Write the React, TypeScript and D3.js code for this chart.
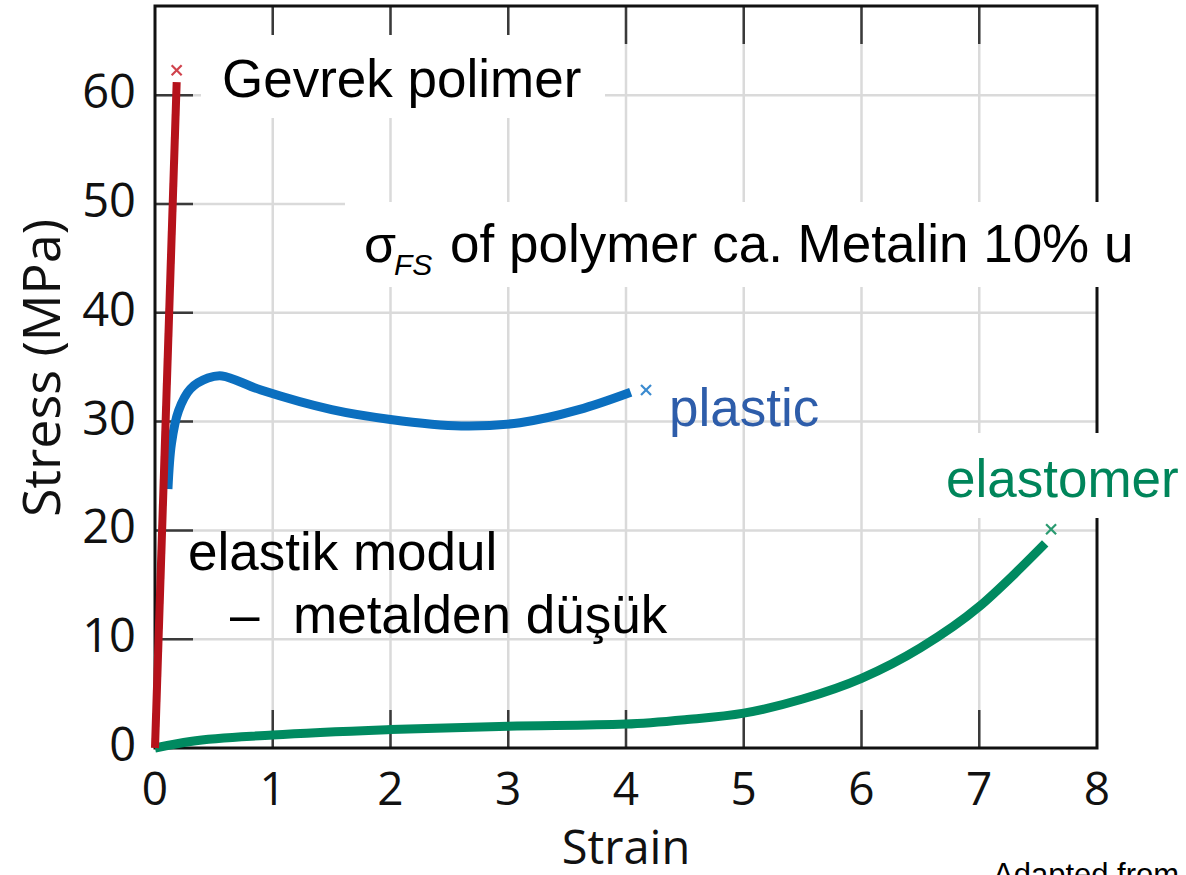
import * as d3 from "d3";

// strain / stress readings (strain, MPa)
const brittleCurve: [number, number][] = [
  [0, 0],
  [0.184, 61.2],
];
const plasticCurve: [number, number][] = [
  [0.11, 23.8],
  [0.14, 28.0],
  [0.2, 31.0],
  [0.3, 33.0],
  [0.45, 34.0],
  [0.57, 34.2],
  [0.9, 32.9],
  [1.5, 31.1],
  [2.0, 30.2],
  [2.6, 29.6],
  [3.1, 29.9],
  [3.6, 31.1],
  [4.04, 32.7],
];
const elastomerCurve: [number, number][] = [
  [0, 0],
  [0.3, 0.6],
  [1, 1.2],
  [2, 1.7],
  [3, 2.0],
  [4.0, 2.2],
  [4.5, 2.6],
  [5, 3.2],
  [5.5, 4.5],
  [6, 6.4],
  [6.5, 9.2],
  [7, 13.0],
  [7.3, 16.0],
  [7.56, 18.8],
];
const breakPoints: { p: [number, number]; color: string }[] = [
  { p: [0.184, 62.3], color: "#d0424c" },
  { p: [4.17, 32.9], color: "#3b8bd0" },
  { p: [7.61, 20.1], color: "#2a9a70" },
];
const xTicks = [0, 1, 2, 3, 4, 5, 6, 7, 8];
const yTicks = [0, 10, 20, 30, 40, 50, 60];

const W = 1186;
const H = 875;
const LEFT = 155;
const RIGHT = 1097;
const TOP = 6;
const BOTTOM = 748;
const TICK = 38;

const arial = "'Liberation Sans', Arial, sans-serif";
const axisFont = "'Open Sans', 'Noto Sans', sans-serif";

export default function App() {
  const x = d3.scaleLinear().domain([0, 8]).range([LEFT, RIGHT]);
  const y = d3.scaleLinear().domain([0, 68.2]).range([BOTTOM, TOP]);

  const smooth = d3
    .line<[number, number]>()
    .x((d) => x(d[0]))
    .y((d) => y(d[1]))
    .curve(d3.curveMonotoneX);
  const rounded = d3
    .line<[number, number]>()
    .x((d) => x(d[0]))
    .y((d) => y(d[1]))
    .curve(d3.curveCatmullRom.alpha(0.5));
  const straight = d3
    .line<[number, number]>()
    .x((d) => x(d[0]))
    .y((d) => y(d[1]));

  return (
    <svg
      width={W}
      height={H}
      viewBox={`0 0 ${W} ${H}`}
      style={{ position: "absolute", left: 0, top: 0, background: "#fff" }}
    >
      {/* grid */}
      {xTicks.slice(1, -1).map((t) => (
        <line key={"gx" + t} x1={x(t)} x2={x(t)} y1={TOP} y2={BOTTOM} stroke="#dadada" strokeWidth={2.5} />
      ))}
      {yTicks.slice(1).map((t) => (
        <line key={"gy" + t} x1={LEFT} x2={RIGHT} y1={y(t)} y2={y(t)} stroke="#dadada" strokeWidth={2.5} />
      ))}

      {/* ticks */}
      {xTicks.slice(1, -1).map((t) => (
        <g key={"tx" + t} stroke="#3a3a3a" strokeWidth={2.5}>
          <line x1={x(t)} x2={x(t)} y1={BOTTOM} y2={BOTTOM - TICK} />
          <line x1={x(t)} x2={x(t)} y1={TOP} y2={TOP + TICK} />
        </g>
      ))}
      {yTicks.slice(1).map((t) => (
        <line key={"ty" + t} x1={LEFT} x2={LEFT + TICK} y1={y(t)} y2={y(t)} stroke="#3a3a3a" strokeWidth={2.5} />
      ))}

      {/* frame */}
      <rect x={LEFT} y={TOP} width={RIGHT - LEFT} height={BOTTOM - TOP} fill="none" stroke="#111" strokeWidth={3} />

      {/* white boxes behind the annotations */}
      <rect x={201} y={35} width={404} height={83} fill="#fff" />
      <rect x={345} y={202} width={815} height={85} fill="#fff" />
      <rect x={935} y={433} width={251} height={85} fill="#fff" />

      {/* tick labels */}
      {xTicks.map((t) => (
        <text key={"lx" + t} x={x(t)} y={805} textAnchor="middle" fontFamily={axisFont} fontSize={46} fill="#111">
          {t}
        </text>
      ))}
      {yTicks.map((t) => (
        <text key={"ly" + t} x={136} y={y(t) + 13} textAnchor="end" fontFamily={axisFont} fontSize={47} fill="#111">
          {t}
        </text>
      ))}

      {/* axis titles */}
      <text x={626} y={864} textAnchor="middle" fontFamily={axisFont} fontSize={47} fill="#111">
        Strain
      </text>
      <text
        transform={`translate(60, 368) rotate(-90)`}
        textAnchor="middle"
        fontFamily={axisFont}
        fontSize={52}
        fill="#111"
      >
        Stress (MPa)
      </text>

      {/* curves */}
      <path d={rounded(plasticCurve) ?? ""} fill="none" stroke="#0b6fbf" strokeWidth={9} />
      <path d={smooth(elastomerCurve) ?? ""} fill="none" stroke="#008a60" strokeWidth={9} />
      <path d={straight(brittleCurve) ?? ""} fill="none" stroke="#b5121b" strokeWidth={8} />

      {breakPoints.map((b, i) => {
        const cx = x(b.p[0]);
        const cy = y(b.p[1]);
        const s = 5;
        return (
          <g key={"bp" + i} stroke={b.color} strokeWidth={2.2}>
            <line x1={cx - s} y1={cy - s} x2={cx + s} y2={cy + s} />
            <line x1={cx - s} y1={cy + s} x2={cx + s} y2={cy - s} />
          </g>
        );
      })}

      {/* annotations */}
      <text x={222} y={97} fontFamily={arial} fontSize={53} fill="#000">
        Gevrek polimer
      </text>
      <text y={262} fontFamily={arial} fill="#000">
        <tspan x={364} fontSize={52}>σ</tspan>
        <tspan x={394} dy={13} fontSize={30} fontStyle="italic">FS</tspan>
        <tspan x={450} dy={-13} fontSize={53}>of polymer ca. Metalin 10% u</tspan>
      </text>
      <text x={669} y={426} fontFamily={arial} fontSize={53} fill="#2e5daa">
        plastic
      </text>
      <text x={946} y={497} fontFamily={arial} fontSize={53} fill="#00855a">
        elastomer
      </text>
      <text x={188} y={570} fontFamily={arial} fontSize={53} fill="#000">
        elastik modul
      </text>
      <text y={633} fontFamily={arial} fontSize={53} fill="#000">
        <tspan x={230}>–</tspan>
        <tspan x={293}>metalden düşük</tspan>
      </text>
      <text x={993} y={885} fontFamily={arial} fontSize={31} fill="#000">
        Adapted from
      </text>
    </svg>
  );
}
